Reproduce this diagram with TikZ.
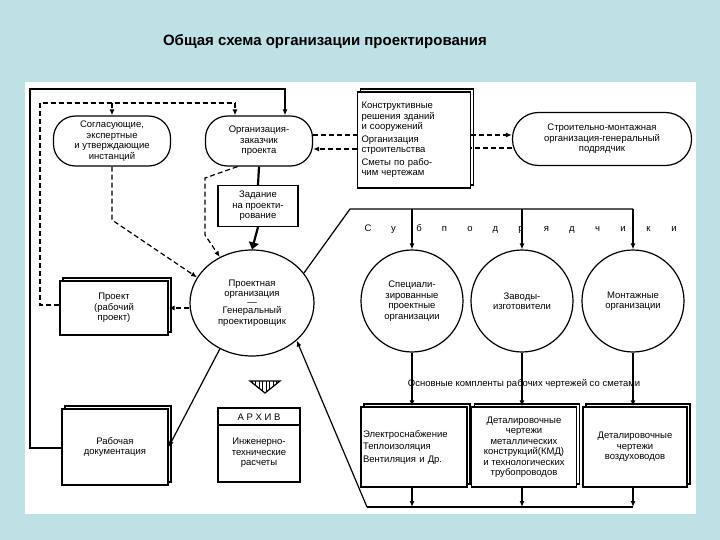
\documentclass[tikz,border=0pt]{standalone}
\usepackage{fontspec}
\setmainfont{Liberation Sans}
\usetikzlibrary{shapes.geometric,arrows.meta}
\definecolor{bgc}{HTML}{BDE1E4}
\begin{document}
\begin{tikzpicture}[x=1pt,y=-1pt,
  thick/.style={line width=1.2pt},
  txt/.style={font=\fontsize{9.5}{10.5}\selectfont, align=center},
  stad/.style={txt, draw, thick, rounded corners=22pt, minimum height=50pt, inner sep=1pt},
  box/.style={txt, draw, thick, fill=white, preaction={draw, thick, fill=white, transform canvas={shift={(3pt,3pt)}}}},
  circ/.style={txt, draw, thick, circle, minimum size=102pt, inner sep=0pt},
  sl/.style={thick, -{Latex[length=6pt,width=5pt]}},
  dl/.style={thick, dash pattern=on 5pt off 3pt},
  da/.style={dl, -{Latex[length=6pt,width=5pt]}}]
\useasboundingbox (0,0) rectangle (720,540);
\fill[bgc] (0,0) rectangle (720,540);
\fill[white] (25,82) rectangle (696,514);
\node[font=\bfseries\fontsize{15}{17}\selectfont] (title) at (325,42) {Общая схема организации проектирования};

% top row
\node[stad, minimum width=117pt] (sogl) at (112,141) {Согласующие,\\экспертные\\и утверждающие\\инстанций};
\node[stad, minimum width=107pt] (zak) at (259,141) {Организация-\\заказчик\\проекта};
\node[box, minimum width=113pt, minimum height=96pt, align=left, text width=105pt] (konst) at (414,140) {Конструктивные\\решения зданий\\и сооружений\\[2pt]Организация\\строительства\\[2pt]Сметы по рабо-\\чим чертежам};
\node[stad, minimum width=179pt, minimum height=53pt, rounded corners=26pt] (smo) at (602,139) {Строительно-монтажная\\организация-генеральный\\подрядчик};

\node[txt, draw, thick, minimum width=80pt, minimum height=41pt] (zad) at (258,206) {Задание\\на проекти-\\рование};
\node[txt, draw, thick, ellipse, minimum width=124pt, minimum height=106pt, inner sep=0pt] (po) at (252,303) {Проектная\\организация\\[-2pt]—\\[-2pt]Генеральный\\проектировщик};

\node[box, minimum width=108pt, minimum height=54pt] (proj) at (114,308) {Проект\\(рабочий\\проект)};
\node[box, minimum width=106pt, minimum height=76pt] (rab) at (115,447) {Рабочая\\документация};

% archive
\node[txt, draw, thick, minimum width=82pt, minimum height=74pt] (arh) at (259,445) {};
\draw[thick] (218,425) -- (300,425);
\node[txt] (arht) at (259,417) {А Р Х И В};
\node[txt] (arhb) at (259,453) {Инженерно-\\технические\\расчеты};
\draw[thick] (250,381) -- (280,381) -- (265,393) -- cycle;
\foreach \i in {0,...,7}{\draw (252+\i*3.5,381) -- (252+\i*3.5,{381+12*(1-abs(252+\i*3.5-265)/15)});}

% subcontractors
\node[circ] (c1) at (412,301) {Специали-\\зированные\\проектные\\организации};
\node[circ] (c2) at (522,301) {Заводы-\\изготовители};
\node[circ] (c3) at (633,301) {Монтажные\\организации};
\foreach \l [count=\i] in {С,у,б,п,о,д,р,я,д,ч,и,к,и}
  \node[txt, anchor=base] (s\i) at ({368+(\i-1)*25.5},232) {\l};
\coordinate (j0) at (350,209);
\coordinate (j1) at (412,209);
\coordinate (j2) at (522,209);
\coordinate (j3) at (633,209);
\draw[thick] (po.30) -- (j0) -- (j3);
\draw[sl] (j1) -- (c1.north);
\draw[sl] (j2) -- (c2.north);
\draw[sl] (j3) -- (c3.north);

\node[txt] (osn) at (524,384) {Основные компленты рабочих чертежей со сметами};
\node[box, minimum width=105pt, minimum height=80pt, align=left, text width=102pt, inner sep=2pt] (b1) at (414,447) {Электроснабжение\\[2pt]Теплоизоляция\\[2pt]Вентиляция и Др.};
\node[box, minimum width=105pt, minimum height=80pt, inner sep=1pt] (b2) at (524,447) {Деталировочные\\чертежи\\металлических\\конструкций(КМД)\\и технологических\\трубопроводов};
\node[box, minimum width=104pt, minimum height=80pt] (b3) at (635,447) {Деталировочные\\чертежи\\воздуховодов};
\draw[sl] (c1.south) -- (b1.north -| c1.south);
\draw[sl] (c2.south) -- (b2.north -| c2.south);
\draw[sl] (c3.south) -- (b3.north -| c3.south);
\coordinate (q0) at (367,507);
\coordinate (q3) at (633,507);
\draw[thick] (q0) -- (q3);
\draw[sl] (b1.south -| c1.south) -- (c1.south |- q0);
\draw[sl] (b2.south -| c2.south) -- (c2.south |- q0);
\draw[sl] (b3.south -| c3.south) -- (q3);
\draw[sl] (q0) -- (po.-40);

% left loops
\coordinate (o1) at (30,448);
\coordinate (o2) at (30,89);
\coordinate (o3) at (285,89);
\draw[sl] (rab.west |- o1) -- (o1) -- (o2) -- (o3) -- (o3 |- zak.north);
\coordinate (d1) at (40,305);
\coordinate (d2) at (40,103);
\coordinate (d3) at (235,103);
\coordinate (d4) at (112,103);
\draw[dl] (proj.west |- d1) -- (d1) -- (d2) -- (d3);
\draw[da] (d3) -- (d3 |- zak.north);
\draw[da] (d4) -- (sogl.north);
\coordinate (e1) at (112,220);
\draw[da] (sogl.south) -- (e1) -- (po.155);
\coordinate (f1) at (205,178);
\coordinate (f2) at (205,235);
\draw[da] (zak.230) -- (f1) -- (f2) -- (po.125);
\draw[da] (po.west |- proj.east) -- (proj.east);
\draw[line width=2.2pt] (zak.south) -- (zad.north);
\draw[line width=2.2pt, -{Triangle[length=7pt,width=10pt]}] (zad.south) -- (po.north);
\draw[sl] (po.-125) -- (rab.east);

% right dashed exchanges
\draw[dl] (zak.east |- 0,135) -- (konst.west |- 0,135);
\draw[da] (konst.west |- 0,149) -- (zak.east |- 0,149);
\draw[da] (konst.east |- 0,135) -- (smo.west |- 0,135);
\draw[dl] (smo.west |- 0,148) -- (konst.east |- 0,148);
\end{tikzpicture}
\end{document}
